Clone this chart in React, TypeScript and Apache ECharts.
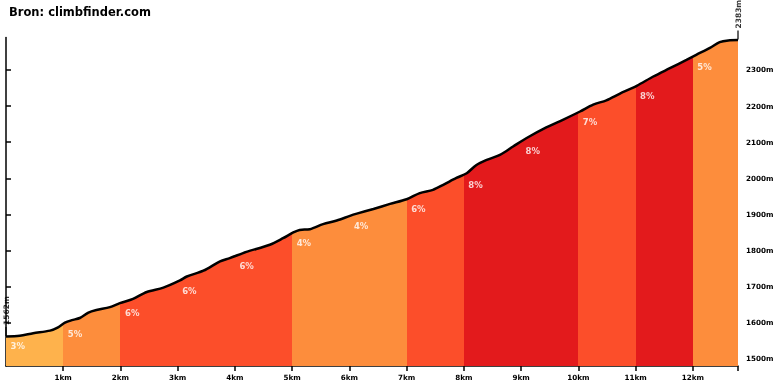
import React, { useEffect, useRef } from "react";
import * as echarts from "echarts";

const TITLE = "Bron: climbfinder.com";

// [distance km, elevation m]
const PROFILE: [number, number][] = [
  [0, 1562], [0.24, 1564], [0.475, 1571], [0.77, 1578], [0.91, 1587],
  [1.03, 1600], [1.15, 1607], [1.29, 1613], [1.44, 1628], [1.58, 1635],
  [1.815, 1643], [1.99, 1654], [2.22, 1666], [2.46, 1685], [2.75, 1697],
  [3.04, 1717], [3.16, 1728], [3.45, 1744], [3.74, 1770], [3.91, 1779],
  [4.2, 1796], [4.61, 1816], [4.84, 1834], [5.02, 1850], [5.13, 1857],
  [5.31, 1859], [5.54, 1873], [5.78, 1883], [6.01, 1896], [6.13, 1902],
  [6.42, 1915], [6.71, 1929], [7.0, 1942], [7.23, 1959], [7.46, 1968],
  [7.64, 1982], [7.87, 2001], [8.05, 2014], [8.22, 2037], [8.4, 2051],
  [8.63, 2065], [8.86, 2088], [9.09, 2111], [9.44, 2141], [9.73, 2162],
  [10.03, 2185], [10.26, 2204], [10.49, 2216], [10.72, 2234], [11.02, 2256],
  [11.31, 2282], [11.6, 2305], [11.89, 2328], [12.06, 2342], [12.3, 2361],
  [12.47, 2377], [12.62, 2382], [12.79, 2383],
];

const SEG_START_KM = [0, 1, 2, 3, 4, 5, 6, 7, 8, 9, 10, 11, 12];
const SEG_GRADE = [3, 5, 6, 6, 6, 4, 4, 6, 8, 8, 7, 8, 5];
const TOTAL_KM = 12.79;
const START_M = 1562;
const END_M = 2383;
const X_TICKS = [1, 2, 3, 4, 5, 6, 7, 8, 9, 10, 11, 12];
const Y_TICKS = [1500, 1600, 1700, 1800, 1900, 2000, 2100, 2200, 2300];

const FONT = "DejaVu Sans";

function gradeColor(g: number): string {
  if (g <= 3) return "#feb24c";
  if (g <= 5) return "#fd8d3c";
  if (g <= 7) return "#fc4e2a";
  return "#e31a1c";
}

function elevAt(km: number): number {
  for (let i = 1; i < PROFILE.length; i++) {
    const [x0, y0] = PROFILE[i - 1];
    const [x1, y1] = PROFILE[i];
    if (km <= x1) {
      const t = (km - x0) / (x1 - x0);
      return y0 + t * (y1 - y0);
    }
  }
  return PROFILE[PROFILE.length - 1][1];
}

export default function App() {
  const ref = useRef<HTMLDivElement>(null);
  useEffect(() => {
    if (!ref.current) return;
    const chart = echarts.init(ref.current, undefined, { renderer: "svg" });
    const pieces = SEG_START_KM.map((s, i) => ({
      gte: s,
      lt: i + 1 < SEG_START_KM.length ? SEG_START_KM[i + 1] : TOTAL_KM + 1,
      color: gradeColor(SEG_GRADE[i]),
    }));
    const axisLineStyle = { color: "#000", width: 1.5 };
    chart.setOption({
      animation: false,
      title: {
        text: TITLE,
        left: 9,
        top: 6,
        padding: 0,
        textStyle: { fontFamily: FONT, fontSize: 11.5, fontWeight: "bold", color: "#000" },
      },
      grid: { left: 6, right: 42, top: 37.5, bottom: 24 },
      visualMap: {
        show: false,
        type: "piecewise",
        dimension: 0,
        seriesIndex: 0,
        pieces,
      },
      xAxis: {
        type: "value",
        min: 0,
        max: TOTAL_KM,
        axisLine: { show: true, lineStyle: axisLineStyle },
        axisTick: { show: true, length: 5, customValues: [...X_TICKS, TOTAL_KM], lineStyle: axisLineStyle },
        axisLabel: {
          customValues: X_TICKS,
          formatter: (v: number) => `${v}km`,
          fontFamily: FONT,
          fontSize: 7.2,
          fontWeight: "bold",
          color: "#000",
          margin: 8,
        },
        splitLine: { show: false },
      },
      yAxis: {
        type: "value",
        position: "right",
        min: 1480,
        max: 2390,
        axisLine: { show: true, lineStyle: axisLineStyle },
        axisTick: { show: true, length: 5, customValues: Y_TICKS, lineStyle: axisLineStyle },
        axisLabel: {
          customValues: Y_TICKS,
          formatter: (v: number) => `${v}m`,
          fontFamily: FONT,
          fontSize: 7.2,
          fontWeight: "bold",
          color: "#000",
          margin: 8,
        },
        splitLine: { show: false },
      },
      series: [
        {
          type: "line",
          data: PROFILE,
          symbol: "none",
          smooth: 0.3,
          lineStyle: { color: "#000", width: 2.5 },
          areaStyle: { opacity: 1, origin: "start" },
          z: 2,
        },
        {
          type: "scatter",
          data: SEG_START_KM.map((s, i) => [s, elevAt(s), SEG_GRADE[i]]),
          symbolSize: 1,
          itemStyle: { color: "rgba(0,0,0,0)" },
          clip: false,
          z: 5,
          label: {
            show: true,
            position: "right",
            distance: 4,
            offset: [0, 10],
            formatter: (p: any) => `${p.value[2]}%`,
            color: "#fff",
            fontFamily: FONT,
            fontSize: 8.5,
            fontWeight: "bold",
          },
        },
        {
          type: "scatter",
          data: [
            [0, START_M],
            [TOTAL_KM, END_M],
          ],
          symbol: "rect",
          symbolSize: [1.5, 9],
          symbolOffset: [0, -5],
          itemStyle: { color: "#000" },
          clip: false,
          z: 6,
          label: {
            show: true,
            position: "top",
            rotate: 90,
            align: "left",
            verticalAlign: "middle",
            distance: 2,
            formatter: (p: any) => `${p.value[1]}m`,
            color: "#000",
            fontFamily: FONT,
            fontSize: 7.5,
            fontWeight: "bold",
          },
        },
      ],
    });
    return () => chart.dispose();
  }, []);
  return (
    <div
      ref={ref}
      style={{ position: "fixed", left: 0, top: 0, width: 780, height: 390 }}
    />
  );
}
